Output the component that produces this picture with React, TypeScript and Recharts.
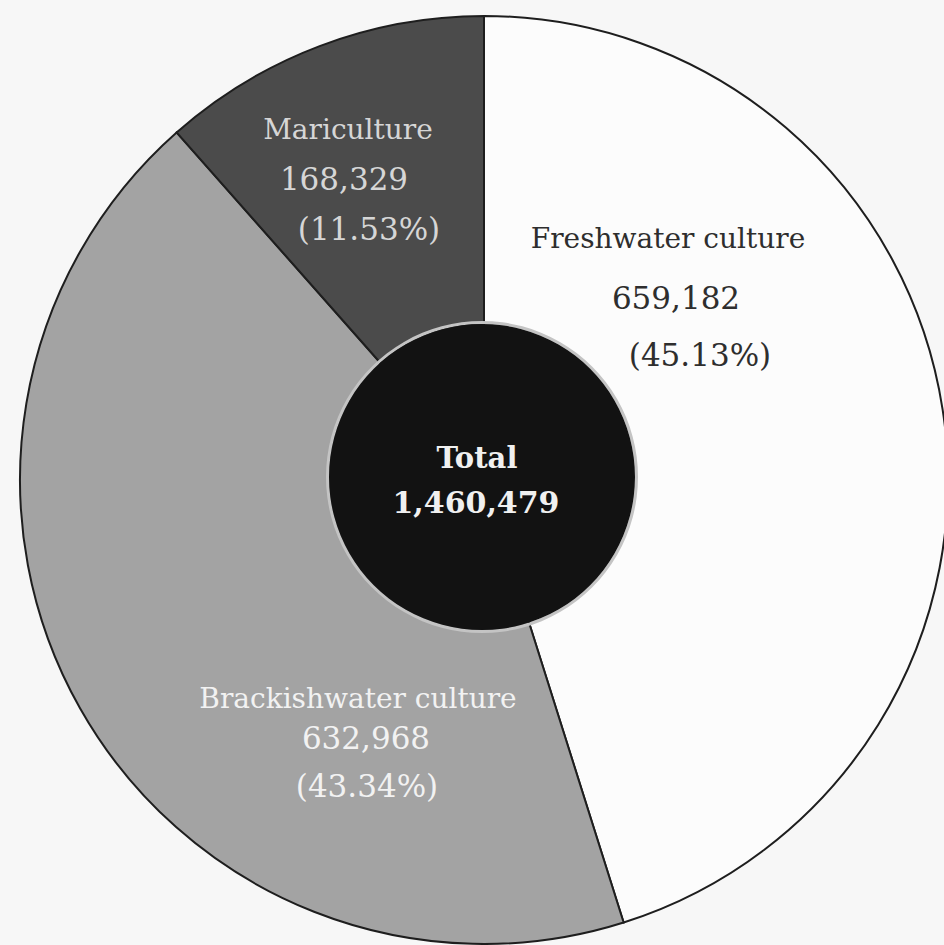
import { Pie, PieChart } from "recharts";

// Aquaculture production by sector (tonnes)
const sectors = ["Freshwater culture", "Brackishwater culture", "Mariculture"];
const production = [659182, 632968, 168329];
const shareLabels = ["659,182", "632,968", "168,329"];
const sharePercents = ["(45.13%)", "(43.34%)", "(11.53%)"];
const totalLabel = "1,460,479";

const sliceFills = ["#fcfcfc", "#a3a3a3", "#4b4b4b"];
const labelFills = ["#2e2e2e", "#f2f2f2", "#d6d6d6"];

// text offsets from the pie centre, one per line of each label
const labelLines: Record<string, { dx: number; dy: number }[]> = {
  "Freshwater culture": [
    { dx: 184, dy: -242 },
    { dx: 192, dy: -182 },
    { dx: 216, dy: -125 },
  ],
  "Brackishwater culture": [
    { dx: -126, dy: 218 },
    { dx: -118, dy: 258 },
    { dx: -117, dy: 306 },
  ],
  Mariculture: [
    { dx: -136, dy: -351 },
    { dx: -140, dy: -301 },
    { dx: -115, dy: -251 },
  ],
};

const data = sectors.map((name, i) => ({
  name,
  value: production[i],
  amount: shareLabels[i],
  pct: sharePercents[i],
  fill: sliceFills[i],
  labelFill: labelFills[i],
}));

const totalData = [{ name: "Total", value: production.reduce((a, b) => a + b, 0) }];

const FONT = "'DejaVu Serif', 'Liberation Serif', serif";

function SliceLabel(props: any) {
  const { cx, cy, payload } = props;
  const lines = labelLines[payload.name];
  const texts = [payload.name, payload.amount, payload.pct];
  return (
    <g>
      {texts.map((t, i) => (
        <text
          key={i}
          x={cx + lines[i].dx}
          y={cy + lines[i].dy}
          textAnchor="middle"
          dominantBaseline="central"
          fill={payload.labelFill}
          fontFamily={FONT}
          fontSize={i === 0 ? 28 : 31}
        >
          {t}
        </text>
      ))}
    </g>
  );
}

function TotalLabel(props: any) {
  const { cx, cy } = props;
  return (
    <g fontFamily={FONT} fontWeight="bold" fill="#f0f0f0" textAnchor="middle">
      <text x={cx - 5} y={cy - 19} dominantBaseline="central" fontSize={29}>
        Total
      </text>
      <text x={cx - 6} y={cy + 25} dominantBaseline="central" fontSize={30}>
        {totalLabel}
      </text>
    </g>
  );
}

export default function App() {
  return (
    <div
      style={{
        position: "absolute",
        left: 0,
        top: 0,
        width: 944,
        height: 945,
        background: "#f7f7f7",
      }}
    >
      <PieChart width={944} height={945} margin={{ top: 0, right: 0, bottom: 0, left: 0 }}>
        <Pie
          data={data}
          dataKey="value"
          nameKey="name"
          cx={484}
          cy={480}
          outerRadius={464}
          innerRadius={0}
          startAngle={90}
          endAngle={-270}
          stroke="#1e1e1e"
          strokeWidth={2}
          label={SliceLabel}
          labelLine={false}
          isAnimationActive={false}
        />
        {/* thin light ring round the centre disc */}
        <Pie
          data={totalData}
          dataKey="value"
          cx={482}
          cy={477}
          outerRadius={156}
          innerRadius={153}
          startAngle={90}
          endAngle={-270}
          fill="#c4c4c4"
          stroke="none"
          isAnimationActive={false}
        />
        <Pie
          data={totalData}
          dataKey="value"
          cx={482}
          cy={477}
          outerRadius={153}
          innerRadius={0}
          startAngle={90}
          endAngle={-270}
          fill="#121212"
          stroke="none"
          label={TotalLabel}
          labelLine={false}
          isAnimationActive={false}
        />
      </PieChart>
    </div>
  );
}
